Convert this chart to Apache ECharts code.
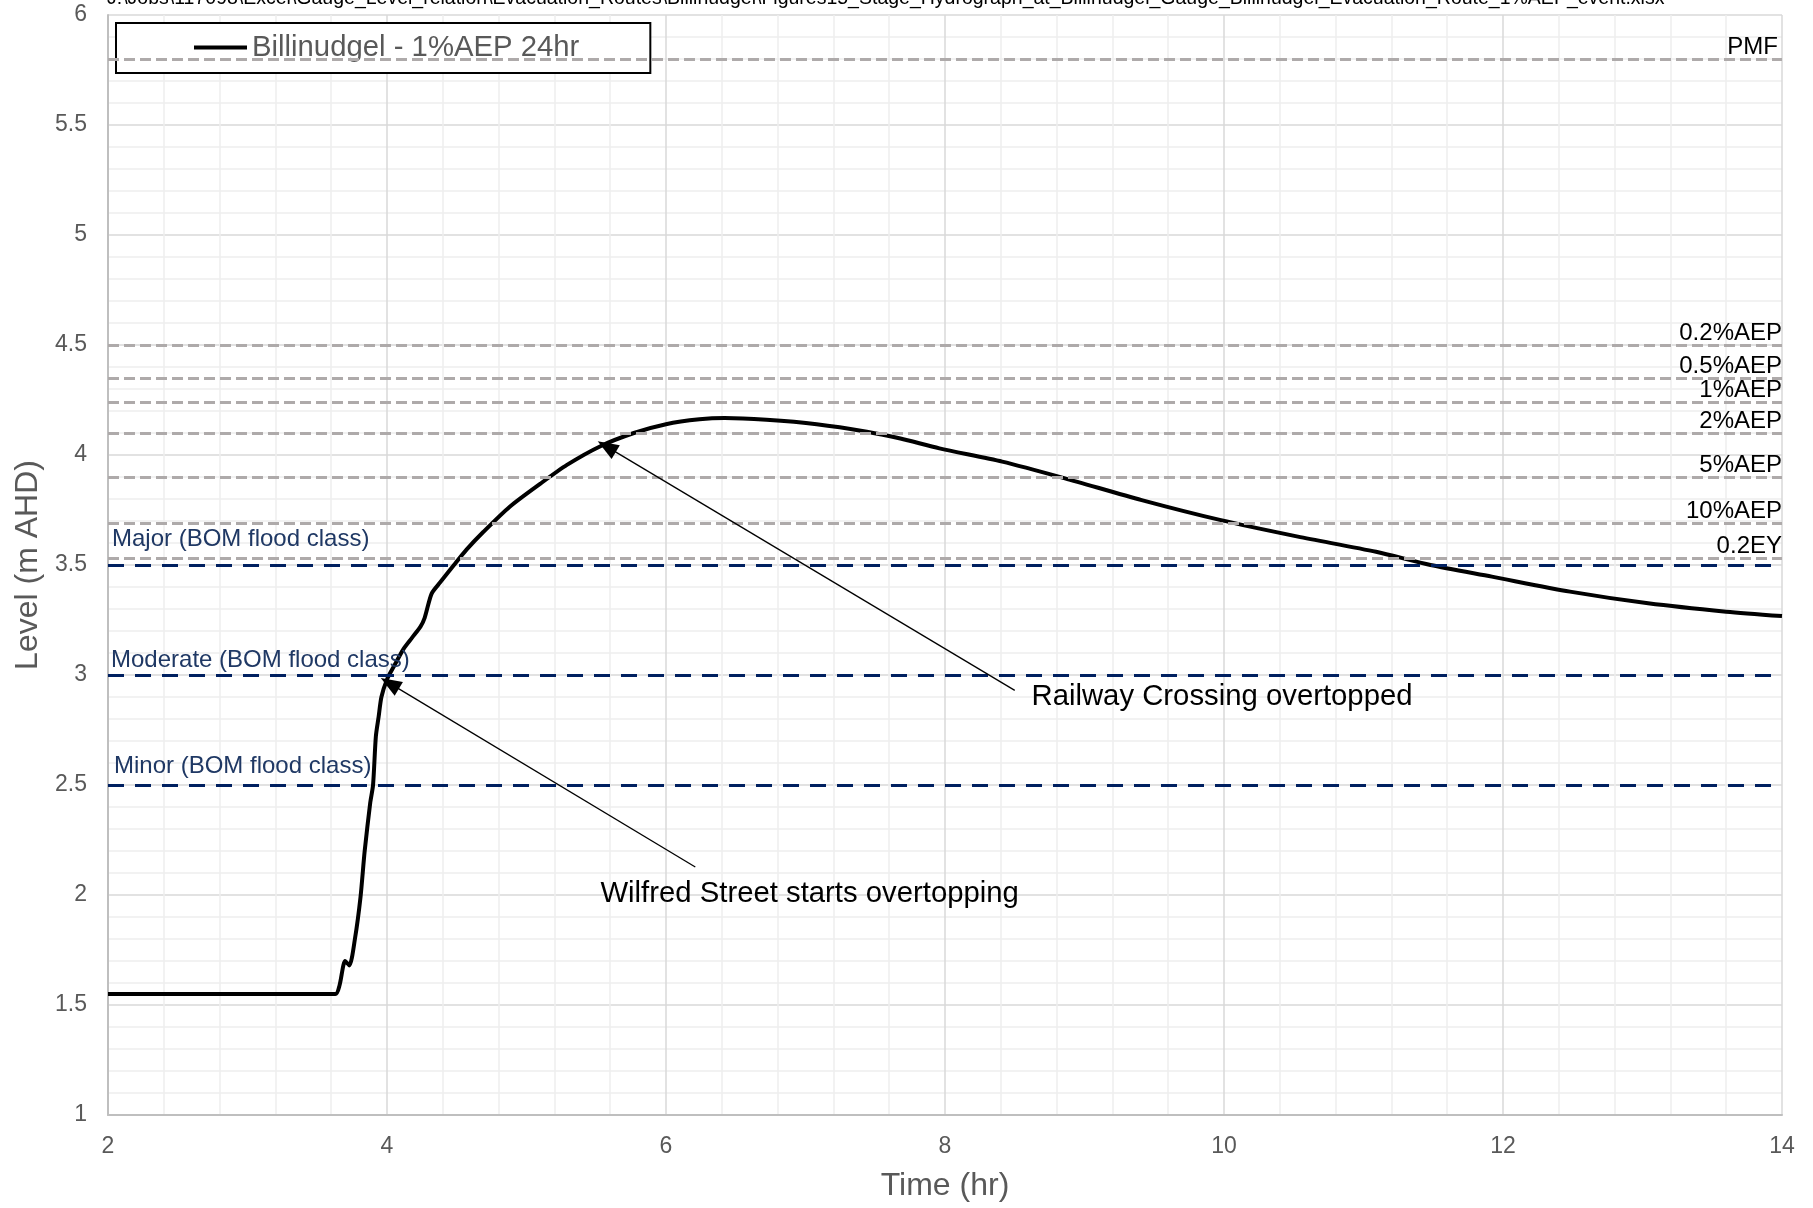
<!DOCTYPE html>
<html>
<head>
<meta charset="utf-8">
<script src="https://cdn.jsdelivr.net/npm/echarts@6/dist/echarts.min.js"></script>
<style>
html,body{margin:0;padding:0;background:#fff;}
#chart{width:1813px;height:1208px;}
</style>
</head>
<body>
<div id="chart"></div>
<script>
// ---- data ----
const times = [2, 3.63, 3.66, 3.70, 3.73, 3.77, 3.81, 3.84, 3.88, 3.90, 3.92, 3.94, 3.96, 4.00, 4.05, 4.12, 4.18, 4.24, 4.27, 4.32, 4.38, 4.48, 4.57, 4.69, 4.88, 5.10, 5.29, 5.53, 5.77, 6.00, 6.24, 6.42, 6.72, 7.08, 7.44, 7.68, 7.96, 8.41, 8.86, 9.41, 9.97, 10.53, 11.09, 11.48, 11.92, 12.48, 13.04, 13.60, 14.0];
const levels = [1.55, 1.55, 1.59, 1.70, 1.68, 1.80, 1.99, 2.20, 2.42, 2.50, 2.72, 2.81, 2.90, 2.98, 3.04, 3.12, 3.17, 3.22, 3.26, 3.37, 3.42, 3.50, 3.57, 3.65, 3.765, 3.87, 3.955, 4.04, 4.10, 4.14, 4.162, 4.168, 4.16, 4.14, 4.106, 4.075, 4.03, 3.97, 3.894, 3.795, 3.705, 3.629, 3.56, 3.50, 3.447, 3.379, 3.326, 3.288, 3.268];
const seriesName = 'Billinudgel - 1%AEP 24hr';

const aepNames = ['PMF', '0.2%AEP', '0.5%AEP', '1%AEP', '2%AEP', '5%AEP', '10%AEP', '0.2EY'];
const aepLevels = [5.8, 4.5, 4.35, 4.24, 4.10, 3.90, 3.69, 3.53];

const bomNames = ['Major (BOM flood class)', 'Moderate (BOM flood class)', 'Minor (BOM flood class)'];
const bomLevels = [3.5, 3.0, 2.5];

const noteTexts = ['Railway Crossing overtopped', 'Wilfred Street starts overtopping'];
const noteTextAt = [[8.62, 2.90], [5.53, 2.005]];
const noteArrowFrom = [[8.50, 2.93], [6.21, 2.127]];
const noteArrowTo = [[5.575, 4.038], [4.02, 2.962]];

const xTicks = {min: 2, max: 14, interval: 2};
const yTicks = {min: 1, max: 6, interval: 0.5};
const headerText = 'J:\\Jobs\\117098\\Excel\\Gauge_Level_relation\\Evacuation_Routes\\Billinudgel\\Figures15_Stage_Hydrograph_at_Billinudgel_Gauge_Billinudgel_Evacuation_Route_1%AEP_event.xlsx';

// ---- build ----
const FONT = 'Liberation Sans, Arial, sans-serif';
const lineData = times.map((t, i) => [t, levels[i]]);
const bomDist = [[4, 14], [3, 3], [6, 7]];

const thresholdItems = [];
aepLevels.forEach((v, i) => {
  thresholdItems.push({
    yAxis: v,
    lineStyle: {color: '#AEAAAA', width: 3, type: [11, 5]},
    label: {show: true, formatter: aepNames[i], position: 'insideEndTop', distance: [i === 0 ? 4 : 0, 0],
      color: '#000', fontSize: 24, fontFamily: FONT}
  });
});
bomLevels.forEach((v, i) => {
  thresholdItems.push({
    yAxis: v,
    lineStyle: {color: '#002060', width: 3, type: [16, 11]},
    label: {show: true, formatter: bomNames[i], position: 'insideStartTop', distance: bomDist[i],
      color: '#1F3864', fontSize: 24, fontFamily: FONT}
  });
});

const arrowItems = noteArrowFrom.map((f, i) => [
  {coord: f, symbol: 'none'},
  {coord: noteArrowTo[i], symbol: 'triangle', symbolSize: [16, 21]}
]);

const notePoints = noteTexts.map((txt, i) => ({
  coord: noteTextAt[i],
  label: {show: true, formatter: txt, position: 'right', distance: 0, color: '#000', fontSize: 29.3, fontFamily: FONT}
}));

const chart = echarts.init(document.getElementById('chart'), null, {renderer: 'canvas'});
chart.setOption({
  animation: false,
  backgroundColor: '#fff',
  grid: {left: 108, right: 31, top: 15, bottom: 93, containLabel: false},
  legend: {
    left: 116, top: 23,
    backgroundColor: '#fff',
    borderColor: '#000', borderWidth: 2, borderRadius: 0,
    padding: [10, 71, 11, 78],
    itemWidth: 53, itemHeight: 4, icon: 'rect',
    textStyle: {color: '#595959', fontSize: 29.3, fontFamily: FONT},
    data: [seriesName]
  },
  graphic: [{
    type: 'text', left: 107, top: -11, z: 100,
    style: {text: headerText, fontSize: 19.5, fontFamily: 'Liberation Sans Narrow, Arial Narrow, sans-serif', fill: '#000'}
  }],
  xAxis: {
    type: 'value', min: xTicks.min, max: xTicks.max, interval: xTicks.interval,
    name: 'Time (hr)', nameLocation: 'middle', nameGap: 55,
    nameTextStyle: {color: '#595959', fontSize: 32, fontFamily: FONT},
    axisLine: {show: true, onZero: false, lineStyle: {color: '#BFBFBF', width: 2}},
    axisTick: {show: false},
    axisLabel: {color: '#595959', fontSize: 23, fontFamily: FONT, margin: 20},
    splitLine: {show: true, lineStyle: {color: '#D9D9D9', width: 1.5}},
    minorTick: {show: false, splitNumber: 5},
    minorSplitLine: {show: true, lineStyle: {color: '#EEEEEE', width: 1.5}}
  },
  yAxis: {
    type: 'value', min: yTicks.min, max: yTicks.max, interval: yTicks.interval,
    name: 'Level (m AHD)', nameLocation: 'middle', nameGap: 62, nameRotate: 90,
    nameTextStyle: {color: '#595959', fontSize: 32, fontFamily: FONT},
    axisLine: {show: true, onZero: false, lineStyle: {color: '#BFBFBF', width: 2}},
    axisTick: {show: false},
    axisLabel: {color: '#595959', fontSize: 23, fontFamily: FONT, margin: 21},
    splitLine: {show: true, lineStyle: {color: '#D9D9D9', width: 1.5}},
    minorTick: {show: false, splitNumber: 5},
    minorSplitLine: {show: true, lineStyle: {color: '#EEEEEE', width: 1.5}}
  },
  series: [
    {
      name: 'thresholds', type: 'line', data: [], silent: true, z: 1,
      markLine: {silent: true, symbol: ['none', 'none'], animation: false, data: thresholdItems}
    },
    {
      name: seriesName, type: 'line', data: lineData, symbol: 'none', z: 3,
      smooth: 0.25,
      lineStyle: {color: '#000', width: 4}, itemStyle: {color: '#000'}
    },
    {
      name: 'notes', type: 'line', data: [], silent: true, z: 4,
      markLine: {silent: true, animation: false,
        lineStyle: {color: '#000', width: 1.3, type: 'solid'},
        itemStyle: {color: '#000'},
        label: {show: false},
        data: arrowItems},
      markPoint: {silent: true, animation: false, symbol: 'circle', symbolSize: 0,
        itemStyle: {color: 'transparent'}, data: notePoints}
    }
  ]
});
</script>
</body>
</html>
